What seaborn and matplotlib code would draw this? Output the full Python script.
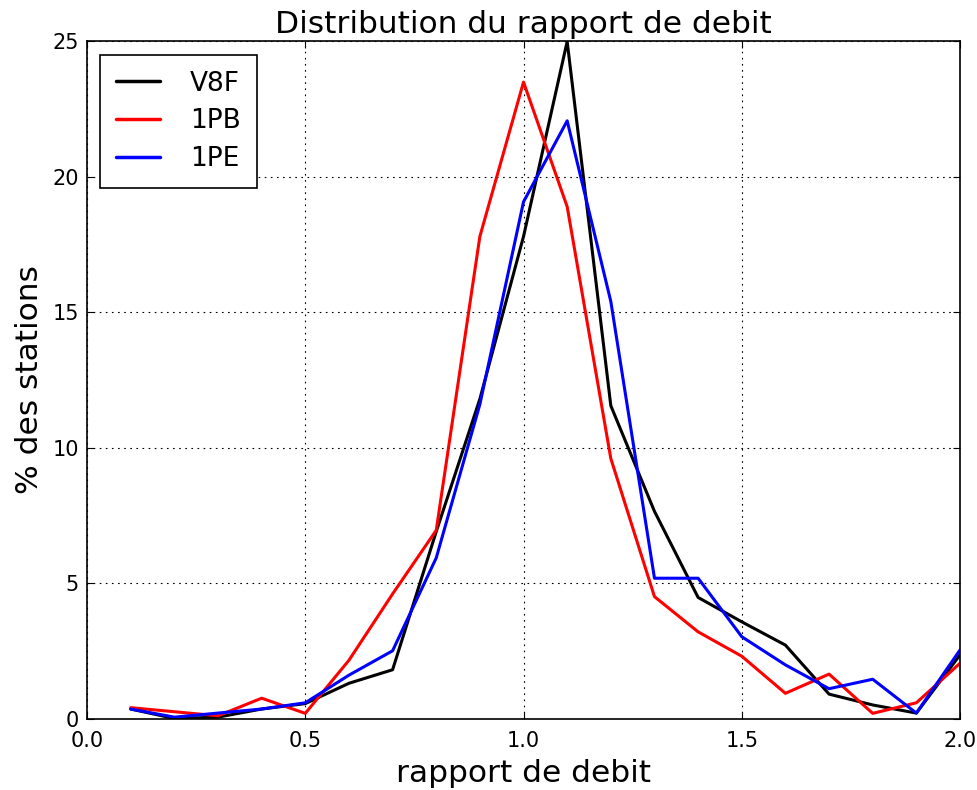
import matplotlib
matplotlib.use("Agg")
import matplotlib.pyplot as plt
import seaborn as sns
import pandas as pd

# rapport de debit (bin centres)
ratio = [0.1, 0.2, 0.3, 0.4, 0.5, 0.6, 0.7, 0.8, 0.9, 1.0,
         1.1, 1.2, 1.3, 1.4, 1.5, 1.6, 1.7, 1.8, 1.9, 2.0]

# % des stations
v8f = [0.35, 0.0, 0.05, 0.35, 0.55, 1.3, 1.8, 6.9, 11.8, 17.8,
       25.0, 11.55, 7.65, 4.47, 3.57, 2.71, 0.9, 0.5, 0.2, 2.35]
p1b = [0.4, 0.25, 0.1, 0.75, 0.19, 2.15, 4.6, 6.95, 17.8, 23.5,
       18.9, 9.6, 4.5, 3.2, 2.3, 0.93, 1.64, 0.19, 0.58, 2.04]
p1e = [0.35, 0.05, 0.2, 0.35, 0.58, 1.6, 2.5, 5.93, 11.6, 19.08,
       22.07, 15.4, 5.18, 5.18, 3.02, 1.98, 1.1, 1.45, 0.2, 2.53]

series_names = ["V8F", "1PB", "1PE"]
colors = {"V8F": "black", "1PB": "red", "1PE": "blue"}

df = pd.concat([
    pd.DataFrame({"ratio": ratio, "pct": vals, "serie": name})
    for name, vals in zip(series_names, [v8f, p1b, p1e])
])

sns.set_style("ticks")
plt.rcParams["font.family"] = ["DejaVu Sans"]
plt.rcParams["text.color"] = "black"
plt.rcParams["axes.labelcolor"] = "black"

fig = plt.figure(figsize=(9.78, 7.9), dpi=100)
ax = fig.add_axes([0.089, 0.0905, 0.8926, 0.857])

sns.lineplot(data=df, x="ratio", y="pct", hue="serie", hue_order=series_names,
             palette=colors, linewidth=2.2, ax=ax, estimator=None, sort=False)

ax.set_xlim(0, 2.0)
ax.set_ylim(0, 25)
ax.set_xticks([0.0, 0.5, 1.0, 1.5, 2.0])
ax.set_yticks([0, 5, 10, 15, 20, 25])
ax.grid(True, color="black", linestyle=(0, (1.5, 4)), linewidth=0.8)
ax.tick_params(direction="in", top=True, right=True, length=5,
               labelsize=15, colors="black")
ax.tick_params(axis="x", pad=9)
ax.tick_params(axis="y", pad=6)
for sp in ax.spines.values():
    sp.set_color("black")
    sp.set_linewidth(1.2)

ax.set_title("Distribution du rapport de debit", fontsize=22.5, pad=6)
ax.set_xlabel("rapport de debit", fontsize=22.5, labelpad=6)
ax.set_ylabel("% des stations", fontsize=22.5, labelpad=6)

leg = ax.legend(loc="upper left", fontsize=19, fancybox=False, framealpha=1,
                edgecolor="black", handlelength=1.65, borderpad=0.6,
                labelspacing=0.45, handletextpad=1.15, borderaxespad=0.5)
leg.get_frame().set_linewidth(1.2)
for line in leg.get_lines():
    line.set_linewidth(2.5)

fig.savefig("out.png", dpi=100, facecolor="white")
